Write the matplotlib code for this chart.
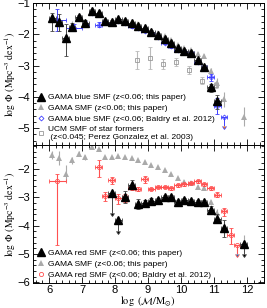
import numpy as np
import matplotlib.pyplot as plt
from matplotlib.ticker import MultipleLocator

plt.rcParams['font.family'] = 'Liberation Sans'
plt.rcParams['mathtext.fontset'] = 'stix'

# GAMA blue SMF (this paper)
blue_m = [6.1, 6.3, 6.5, 6.7, 6.9, 7.1, 7.3, 7.5, 7.7, 7.9, 8.1, 8.3, 8.5,
          8.7, 8.9, 9.1, 9.3, 9.5, 9.7, 9.9, 10.1, 10.3, 10.5, 10.7, 10.9, 11.1]
blue_phi = [-1.49, -1.60, -2.13, -1.76, -1.46, -1.63, -1.25, -1.33, -1.56, -1.60,
            -1.52, -1.56, -1.65, -1.73, -1.81, -1.92, -2.02, -2.16, -2.29, -2.45,
            -2.52, -2.59, -2.82, -3.04, -3.70, -4.13]
blue_elo = [0.40, 0.30, 0.55, 0.15, 0.10, 0.12, 0.07, 0.06, 0.05, 0.05, 0.05, 0.05,
            0.05, 0.05, 0.05, 0.05, 0.05, 0.05, 0.05, 0.05, 0.05, 0.05, 0.06, 0.08,
            0.15, 0.25]
blue_ehi = [0.18, 0.25, 0.45, 0.12, 0.08, 0.10, 0.06, 0.05, 0.05, 0.05, 0.05, 0.05,
            0.05, 0.05, 0.05, 0.05, 0.05, 0.05, 0.05, 0.05, 0.05, 0.05, 0.06, 0.07,
            0.12, 0.18]

# GAMA red SMF (this paper)
red_m = [7.9, 8.1, 8.3, 8.5, 8.7, 8.9, 9.1, 9.3, 9.5, 9.7, 9.9, 10.1, 10.3,
         10.5, 10.7, 10.9, 11.1, 11.3, 11.9]
red_phi = [-2.85, -3.80, -2.99, -2.56, -3.23, -3.20, -3.12, -3.09, -2.98, -2.98,
           -3.15, -3.09, -3.12, -3.15, -3.17, -3.44, -3.75, -4.10, -4.66]
red_err = [0.70, 0.40, 0.22, 0.15, 0.18, 0.10, 0.08, 0.08, 0.07, 0.07, 0.07, 0.07,
           0.07, 0.07, 0.08, 0.12, 0.15, 0.30, 0.35]
red_lim = [True, True, False, False, False, False, False, False, False, False,
           False, False, False, False, False, False, False, False, True]

# GAMA total SMF (this paper)
tot_m = [6.1, 6.3, 6.5, 6.7, 6.9, 7.1, 7.3, 7.5, 7.7, 7.9, 8.1, 8.3, 8.5, 8.7,
         8.9, 9.1, 9.3, 9.5, 9.7, 9.9, 10.1, 10.3, 10.5, 10.7, 10.9, 11.1, 11.3, 11.9]
tot_phi = [-1.51, -1.62, -2.17, -1.70, -1.46, -1.60, -1.23, -1.31, -1.57, -1.57,
           -1.54, -1.57, -1.62, -1.68, -1.77, -1.88, -1.95, -2.05, -2.17, -2.33,
           -2.45, -2.50, -2.63, -2.68, -3.18, -3.55, -4.08, -4.63]
tot_err = [0.15, 0.25, 0.30, 0.12, 0.08, 0.10, 0.06, 0.05, 0.04, 0.04, 0.04, 0.04,
           0.04, 0.04, 0.04, 0.04, 0.04, 0.04, 0.04, 0.04, 0.04, 0.04, 0.05, 0.06,
           0.10, 0.15, 0.25, 0.30]

# Baldry et al. 2012, blue
bb_m = [6.25, 6.75, 7.1, 7.3, 7.5, 7.7, 7.9, 8.1, 8.3, 8.5, 8.7, 8.9, 9.1, 9.3,
        9.5, 9.7, 9.9, 10.1, 10.3, 10.5, 10.7, 10.9, 11.1, 11.3]
bb_dm = [0.25, 0.25, 0.1, 0.1, 0.1, 0.1, 0.1, 0.1, 0.1, 0.1, 0.1, 0.1, 0.1, 0.1,
         0.1, 0.1, 0.1, 0.1, 0.1, 0.1, 0.1, 0.1, 0.1, 0.1]
bb_phi = [-1.54, -1.79, -1.68, -1.33, -1.70, -1.60, -1.65, -1.58, -1.64, -1.74,
          -1.81, -1.88, -1.97, -2.10, -2.27, -2.38, -2.50, -2.56, -2.61, -2.88,
          -3.04, -3.38, -4.30, -4.64]
bb_err = [0.35, 0.12, 0.10, 0.06, 0.08, 0.05, 0.05, 0.05, 0.05, 0.05, 0.05, 0.05,
          0.05, 0.05, 0.05, 0.05, 0.05, 0.05, 0.05, 0.05, 0.06, 0.10, 0.25, 0.30]
bb_lim = [False] * 23 + [True]

# Baldry et al. 2012, red
rb_m = [6.25, 7.5, 7.7, 7.9, 8.1, 8.3, 8.5, 8.7, 8.9, 9.1, 9.3, 9.5, 9.7, 9.9,
        10.1, 10.3, 10.5, 10.7, 10.9, 11.1, 11.3, 11.5, 11.7]
rb_dm = [0.25, 0.1, 0.1, 0.1, 0.1, 0.1, 0.1, 0.1, 0.1, 0.1, 0.1, 0.1, 0.1, 0.1,
         0.1, 0.1, 0.1, 0.1, 0.1, 0.1, 0.1, 0.1, 0.1]
rb_phi = [-2.44, -1.95, -2.97, -2.39, -3.03, -3.00, -2.68, -2.71, -2.36, -2.71,
          -2.64, -2.64, -2.68, -2.58, -2.54, -2.50, -2.44, -2.54, -2.68, -2.91,
          -3.50, -4.34, -4.67]
rb_elo = [2.23, 0.35, 0.15, 0.15, 0.20, 0.15, 0.08, 0.08, 0.15, 0.05, 0.05, 0.05,
          0.05, 0.05, 0.05, 0.05, 0.05, 0.05, 0.05, 0.08, 0.15, 0.30, 0.33]
rb_ehi = [0.25, 0.25, 0.15, 0.12, 0.15, 0.12, 0.08, 0.08, 0.12, 0.05, 0.05, 0.05,
          0.05, 0.05, 0.05, 0.05, 0.05, 0.05, 0.05, 0.08, 0.12, 0.25, 0.25]
rb_lim = [False] * 22 + [True]

# UCM star formers, Perez-Gonzalez et al. 2003
ucm_m = [8.65, 9.05, 9.45, 9.85, 10.25, 10.65, 11.05]
ucm_phi = [-2.82, -2.77, -2.95, -2.88, -3.14, -3.48, -3.62]
ucm_err = [0.30, 0.35, 0.15, 0.12, 0.12, 0.10, 0.10]

black = 'black'
grey = '#aaaaaa'
blue = '#4040ff'
red = '#ff5050'

fig = plt.figure(figsize=(2.67, 3.08), dpi=100)
ax1 = fig.add_axes([0.122, 0.5292, 0.865, 0.461])
ax2 = fig.add_axes([0.122, 0.0812, 0.865, 0.448])


def total(ax):
    ax.errorbar(tot_m, tot_phi, yerr=tot_err, fmt='^', color=grey, ms=4, mew=0,
                elinewidth=0.8, capsize=1.5, capthick=0.6, zorder=2,
                label='GAMA SMF (z<0.06; this paper)')


# top panel
ax1.errorbar(ucm_m, ucm_phi, yerr=ucm_err, fmt='s', mfc='none', mec='#999999',
             ecolor='#bbbbbb', ms=3, mew=0.6, elinewidth=0.8, capsize=1.5,
             label='UCM SMF of star formers\n (z<0.045; Perez Gonzalez et al. 2003)')
ax1.errorbar(bb_m, bb_phi, xerr=bb_dm, yerr=bb_err, uplims=bb_lim, fmt='D',
             mfc='none', mec=blue, ecolor=blue, ms=2.5, mew=0.6, elinewidth=0.7,
             capsize=1.5, capthick=0.6, zorder=3,
             label='GAMA blue SMF (z<0.06; Baldry et al. 2012)')
total(ax1)
ax1.errorbar(blue_m, blue_phi, xerr=0.1, yerr=[blue_elo, blue_ehi], fmt='^',
             color=black, ecolor='#444444', ms=5.5, elinewidth=0.7, capsize=1.5,
             capthick=0.6, zorder=4, label='GAMA blue SMF (z<0.06; this paper)')

# bottom panel
ax2.errorbar(rb_m, rb_phi, xerr=rb_dm, yerr=[rb_elo, rb_ehi], uplims=rb_lim,
             fmt='o', mfc='none', mec=red, ecolor=red, ms=3, mew=0.6,
             elinewidth=0.8, capsize=1.5, capthick=0.6, zorder=3,
             label='GAMA red SMF (z<0.06; Baldry et al. 2012)')
total(ax2)
ax2.errorbar(red_m, red_phi, xerr=0.1, yerr=red_err, uplims=red_lim, fmt='^',
             color=black, ecolor='#444444', ms=5.5, elinewidth=0.7, capsize=1.5,
             capthick=0.6, zorder=4, label='GAMA red SMF (z<0.06; this paper)')

for ax, ylim in [(ax1, (-5.54, -1.0)), (ax2, (-6.02, -1.16))]:
    ax.set_xlim(5.5, 12.5)
    ax.set_ylim(*ylim)
    ax.xaxis.set_major_locator(MultipleLocator(1))
    ax.xaxis.set_minor_locator(MultipleLocator(0.2))
    ax.yaxis.set_major_locator(MultipleLocator(1))
    ax.yaxis.set_minor_locator(MultipleLocator(0.2))
    ax.tick_params(which='both', direction='in', top=True, right=True,
                   labelsize=8, width=0.6, pad=1.5)
    ax.tick_params(which='major', length=4)
    ax.tick_params(which='minor', length=2)
    for s in ax.spines.values():
        s.set_linewidth(0.7)
    ax.set_ylabel(r'$\log\ \Phi\ ({\rm Mpc}^{-3}\ {\rm dex}^{-1})$', fontsize=7,
                  labelpad=0)

ax1.tick_params(labelbottom=False)
ax2.set_xlabel(r'$\log\ (\mathcal{M}/{\rm M}_{\odot})$', fontsize=7.5, labelpad=0)

leg_kw = dict(loc='lower left', fontsize=6, frameon=False, handlelength=1.0,
              handletextpad=0.4, labelspacing=0.35, borderaxespad=0.1)
h, l = ax1.get_legend_handles_labels()
order = [3, 2, 1, 0]
ax1.legend([h[i][0] for i in order], [l[i] for i in order], **leg_kw)
h, l = ax2.get_legend_handles_labels()
order = [2, 1, 0]
ax2.legend([h[i][0] for i in order], [l[i] for i in order], **leg_kw)

fig.savefig('out.png', dpi=100)
